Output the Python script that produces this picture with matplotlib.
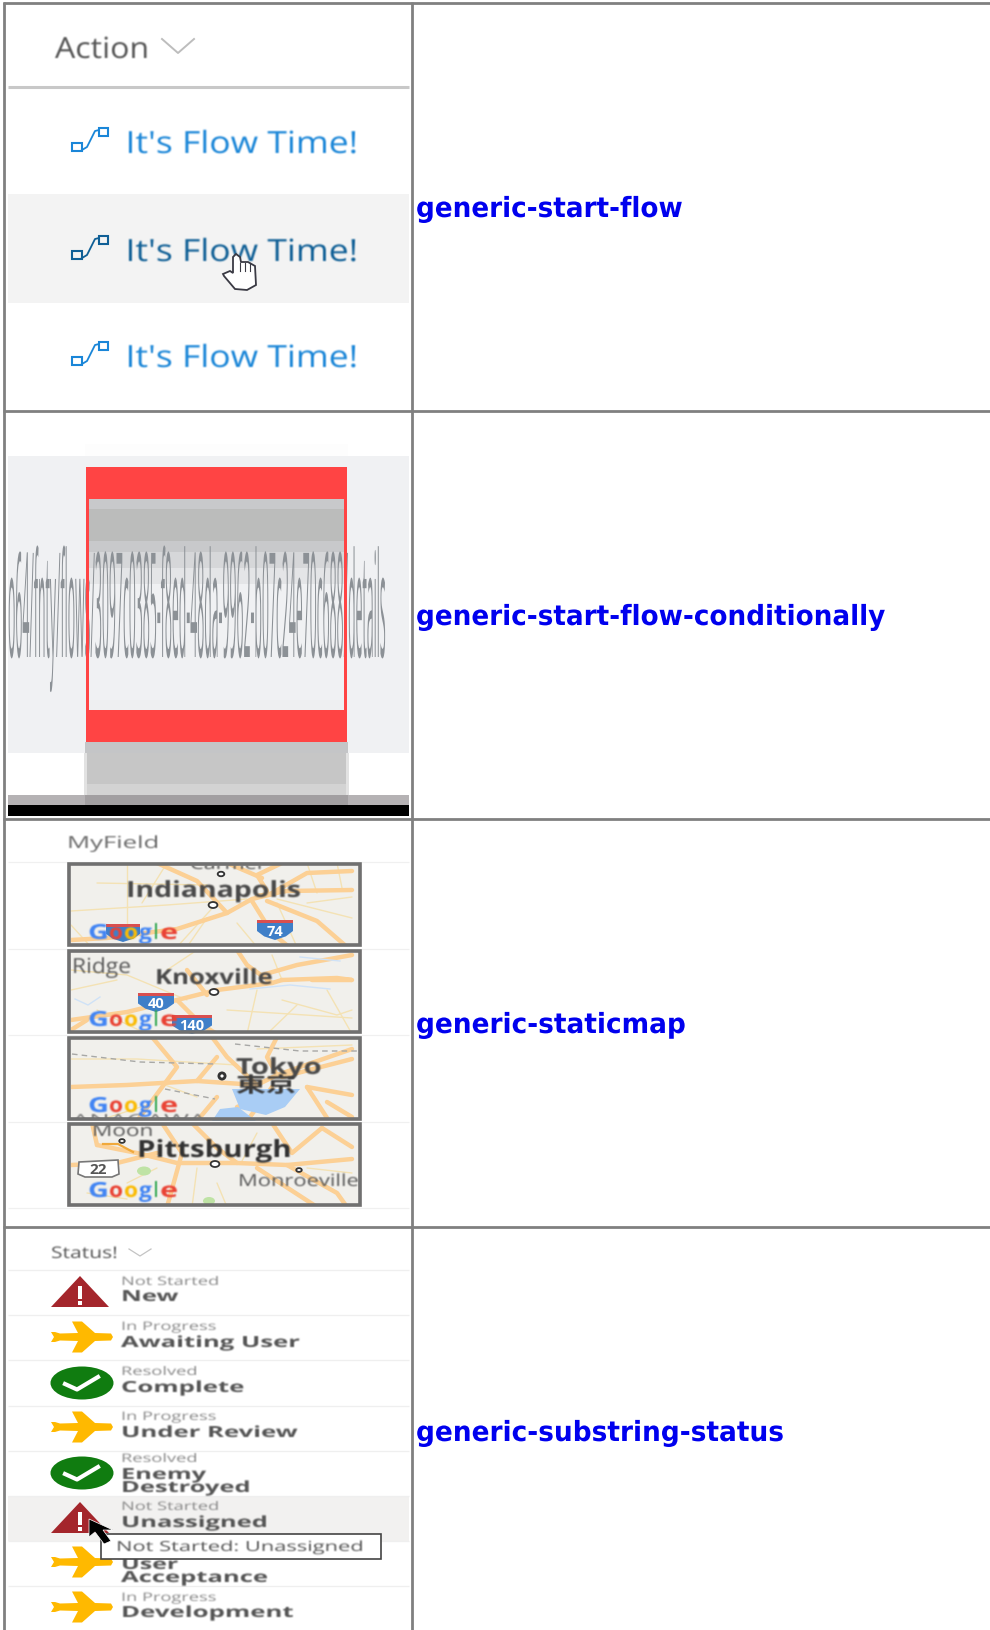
import numpy as np
import matplotlib
matplotlib.use('Agg')
import matplotlib.pyplot as plt
from matplotlib.patches import Rectangle, Polygon, Ellipse, Circle
from matplotlib.patheffects import AbstractPathEffect
from matplotlib.transforms import Affine2D

W, H = 990, 1631
SCREEN = 'Open Sans'

row_names = ['generic-start-flow', 'generic-start-flow-conditionally', 'generic-staticmap', 'generic-substring-status']
row_name_widths = [267, 470, 270, 368]
row_lines = [4, 412, 820, 1228]

flow_label = "It's Flow Time!"
flow_baselines = [154, 262, 368]
url_text = 'o64/fnty/flows/3097c0385-f8ed-48da-9962-b07c24e70c688/details'

map_cities = ['Indianapolis', 'Knoxville', 'Tokyo', 'Pittsburgh']
status_groups = ['Not Started', 'In Progress', 'Resolved', 'In Progress', 'Resolved', 'Not Started', 'In Progress']
status_names = ['New', 'Awaiting User', 'Complete', 'Under Review', 'Enemy', 'Unassigned', 'Development']
status_name_ends = [178, 300, 244, 297, 206, 268, 293]
status_group_ends = [219, 216, 197, 216, 197, 219, 216]
status_group_y = [1286, 1331, 1376, 1421, 1463, 1511, 1602]
status_name_y = [1302, 1348, 1393, 1438, 1480, 1528, 1618]
status_rules = [1271, 1316, 1361, 1407, 1452, 1497, 1542, 1587]


class Stretch(AbstractPathEffect):
    # scales the glyph outlines about the text anchor, the screenshots are squashed
    def __init__(self, sx, sy, x, y):
        super().__init__()
        self.tr = Affine2D().translate(-x, -y).scale(sx, sy).translate(x, y)

    def draw_path(self, renderer, gc, tpath, affine, rgbFace=None):
        renderer.draw_path(gc, tpath, affine + self.tr, rgbFace)


def soft(passes):
    # small blur, the reference is an upscaled screenshot
    def apply(img, dpi):
        pad = passes + 1
        a = np.pad(img, ((pad, pad), (pad, pad), (0, 0)))
        a = a.copy()
        a[..., :3] *= a[..., 3:]
        for _ in range(passes):
            for ax_i in (0, 1):
                a = (np.roll(a, 1, ax_i) + 2 * a + np.roll(a, -1, ax_i)) / 4
        alpha = np.clip(a[..., 3:], 1e-4, 1)
        a[..., :3] = np.clip(a[..., :3] / alpha, 0, 1)
        return a, -pad, -pad
    return apply


fig = plt.figure(figsize=(W / 100, H / 100), dpi=100, facecolor='white')
ax = fig.add_axes([0, 0, 1, 1])
ax.set_xlim(0, W)
ax.set_ylim(H, 0)
ax.axis('off')
rend = fig.canvas.get_renderer()


def label(x, base, s, size, end=None, sy=1.0, color='#555555', weight='normal', family=SCREEN,
          blur=1, z=5, clip=None):
    t = ax.text(x, base, s, fontsize=size, color=color, weight=weight, family=family,
                ha='left', va='baseline', zorder=z)
    sx = 1.0
    if end is not None:
        sx = (end - x) / t.get_window_extent(rend).width
    t.set_path_effects([Stretch(sx, sy, x, H - base)])
    if blur:
        t.set_agg_filter(soft(blur))
    if clip is not None:
        t.set_clip_on(True)
        t.set_clip_path(clip)
    return t


def box(x0, y0, x1, y1, color, z=1, **kw):
    p = Rectangle((x0, y0), x1 - x0, y1 - y0, facecolor=color, edgecolor='none', zorder=z, **kw)
    ax.add_patch(p)
    return p


def rule(x0, x1, y, color, lw, z=2):
    ax.plot([x0, x1], [y, y], color=color, lw=lw, zorder=z, solid_capstyle='butt')


# row 1, flow buttons
label(55, 59, 'Action', 21, end=149, color='#555555')
ax.plot([162, 178, 194], [40, 54, 40], color='#bdbdbd', lw=1.4, zorder=3)
rule(8, 409, 88, '#c8c8c8', 2.2)
box(8, 194.5, 409, 304, '#f3f3f3')
for i, base in enumerate(flow_baselines):
    col = '#0f5f96' if i == 1 else '#1a86d8'
    label(125.5, base, flow_label, 22, end=358, color=col)
    y = base - 154
    ax.add_patch(Rectangle((72, 143.5 + y), 9.5, 8.5, fill=False, edgecolor=col, lw=1.5, zorder=3))
    ax.add_patch(Rectangle((99, 129 + y), 8.5, 8, fill=False, edgecolor=col, lw=1.5, zorder=3))
    ax.plot([82, 87, 95, 99], [151 + y, 148 + y, 132 + y, 131 + y], color=col, lw=1.3, zorder=3)

# hand pointer
hand = [(223, 275), (230, 272), (233, 274), (233, 258), (236, 255), (240, 258), (241, 263), (248, 263),
        (255, 267), (256, 286), (247, 291), (235, 290), (224, 277)]
ax.add_patch(Polygon(hand, closed=True, facecolor='white', edgecolor='#3a3a44', lw=1.3, zorder=6))
for fx in (240, 245, 250):
    ax.plot([fx, fx], [264, 272], color='#3a3a44', lw=0.8, zorder=7)

# row 2, broken card stretched out of shape
box(85, 445, 348, 457, '#fdfdfd')
box(8, 457, 409, 754, '#f0f1f3')
box(86, 468, 347, 743, '#ff4444', z=2)
box(89, 500, 344, 711, '#f0f1f3', z=2)
for y0, y1, c in [(500, 510, '#c8c9cb'), (510, 542, '#bbbcbb'), (542, 553, '#c8c9cb'), (553, 569, '#d6d7d9'),
                  (569, 585, '#e4e5e7'), (701, 711, '#eeeff1')]:
    box(89, y0, 344, y1, c, z=2)
box(85, 743, 348, 754, '#c4c5c7', z=2)
box(85, 754, 348, 785, '#c6c6c6', z=2)
box(85, 785, 348, 796, '#d3d3d3', z=2)
box(84, 754, 87, 796, '#e2e2e2', z=2.1)
box(346, 754, 349, 796, '#e2e2e2', z=2.1)
box(8, 796, 409, 806, '#b5b2b4', z=2)
box(85, 796, 348, 806, '#a29fa1', z=2)
box(8, 806, 409, 817, '#000000', z=3)
label(8, 658, url_text, 15, end=386, sy=7, color='#8c9196', blur=0, z=3)
for x0, y0, x1, y1 in [(86, 468, 89, 743), (344, 468, 347, 743)]:
    box(x0, y0, x1, y1, '#ff4444', z=4)

# row 3, static maps
label(67, 849, 'MyField', 12, end=159, color='#6a6a6a')
for y in (863, 950, 1036, 1123, 1209):
    rule(8, 409, y, '#f0f0f0', 0.9)

map_tops = [864, 951, 1038, 1124]
road_c = '#fcd095'
thin_c = '#f4e2b4'


def draw_map(top, thick, thin, z=2):
    box(67, top, 362, top + 84, '#f1f0ec', z=z)
    clip = box(71, top + 2, 358, top + 82, 'none', z=z)
    for pts, lw, col in [(p, 1.0, thin_c) for p in thin] + [(p, 3.2, road_c) for p in thick]:
        pts = np.array(pts, dtype=float)
        ln, = ax.plot(67 + pts[:, 0], top + pts[:, 1], color=col, lw=lw, zorder=z + 0.1, solid_capstyle='round')
        ln.set_clip_path(clip)
    return clip


def google(x, base):
    letters = 'Google'
    cols = ['#4285f4', '#ea4335', '#fbbc05', '#4285f4', '#34a853', '#ea4335']
    steps = [0, 21, 36, 51, 65, 72]
    ends = [21, 35, 50, 64, 71, 90]
    for ch, c, s, e in zip(letters, cols, steps, ends):
        label(x + s, base, ch, 15, end=x + e, color=c, weight='bold', z=4)


def shield(x0, y0, w, h, num):
    xs = np.array([0, 1, 1, 0.8, 0.5, 0.2, 0])
    ys = np.array([0, 0, 0.55, 0.82, 1, 0.82, 0.55])
    ax.add_patch(Polygon(np.c_[x0 + xs * w, y0 + ys * h], facecolor='#3f7fc8', edgecolor='none', zorder=3.5))
    box(x0, y0, x0 + w, y0 + h * 0.16, '#d94f4f', z=3.6)
    ax.text(x0 + w / 2, y0 + h * 0.55, num, color='white', fontsize=10.5, weight='bold', family=SCREEN,
            ha='center', va='center', zorder=3.7)


def dot(x, y, r=4):
    ax.add_patch(Ellipse((x, y), r * 2.2, r * 1.5, facecolor='white', edgecolor='#333333', lw=1.3, zorder=3.5))


clip1 = draw_map(map_tops[0],
                 [[(4, 77), (40, 75), (110, 66), (160, 50), (185, 36), (210, 30)],
                  [(285, 27), (220, 28), (190, 33)], [(185, 38), (205, 70), (222, 84)],
                  [(200, 38), (250, 58), (280, 84)],
                  [(160, 50), (130, 18), (90, 0)], [(200, 28), (190, 12), (215, 0)], [(205, 30), (240, 10), (285, 8)],
                  [(160, 0), (195, 15)]],
                 [[(4, 48), (100, 42), (180, 36)], [(210, 36), (285, 55)], [(60, 0), (60, 70)], [(140, 55), (120, 84)],
                  [(240, 0), (250, 30)], [(30, 20), (140, 22)], [(170, 60), (190, 84)], [(4, 62), (24, 84)],
                  [(100, 0), (75, 40)], [(210, 40), (230, 84)], [(150, 40), (110, 84)], [(240, 40), (285, 34)],
                  [(270, 0), (275, 25)]])
label(190, 870, 'Carmel', 11, end=262, color='#555555', z=2.5, clip=clip1)
label(126, 898, map_cities[0], 16, end=301, color='#4a4a4a', weight='bold', z=4)
dot(213, 906)
dot(221, 875, 3)
shield(257, 921, 36, 20, '74')
shield(106, 925, 34, 18, '')
google(88, 940)

draw_map(map_tops[1],
         [[(4, 70), (60, 62), (110, 50), (150, 40), (205, 33), (215, 30)], [(205, 33), (180, 15), (170, 0)],
          [(215, 30), (270, 28), (285, 30), (245, 30)], [(285, 5), (230, 15), (195, 25)],
          [(110, 50), (135, 75), (150, 84)], [(4, 80), (20, 70)], [(120, 20), (140, 45)]],
         [[(4, 20), (60, 25), (120, 50)], [(215, 50), (270, 65), (285, 60)], [(190, 40), (180, 84)],
          [(230, 55), (200, 84)], [(205, 5), (215, 30)], [(130, 0), (100, 20)], [(4, 40), (50, 30)],
          [(260, 40), (285, 84)], [(160, 60), (285, 68)], [(30, 60), (80, 84)]])
for pts in [[(75, 1000), (88, 1006), (100, 998)], [(250, 990), (290, 986), (330, 990)], [(300, 958), (340, 962)]]:
    pts = np.array(pts)
    ax.plot(pts[:, 0], pts[:, 1], color='#cfe2f7', lw=1, zorder=2.2)
label(155, 985, map_cities[1], 15, end=273, color='#4a4a4a', weight='bold', z=4)
label(72, 974, 'Ridge', 15, end=131, color='#5a5a5a', z=4)
dot(214, 993)
shield(138, 994, 36, 19, '40')
shield(172, 1016, 40, 19, '140')
google(88, 1027)

clip3 = draw_map(map_tops[2],
                 [[(4, 50), (60, 48), (130, 44), (190, 48), (210, 38), (285, 12)], [(70, 84), (110, 30), (85, 0)],
                  [(190, 48), (160, 20), (145, 0)], [(210, 38), (200, 20), (210, 0)], [(205, 50), (180, 84)],
                  [(240, 50), (285, 58)], [(260, 65), (285, 80)], [(150, 60), (130, 84)], [(215, 40), (285, 22)],
                  [(130, 44), (150, 20)], [(240, 50), (262, 84)], [(170, 70), (210, 55)]],
                 [[(4, 22), (70, 22), (170, 28)], [(190, 12), (285, 8)], [(90, 45), (130, 60)], [(30, 84), (80, 68)]])
for pts in [[(72, 1055), (140, 1063), (215, 1065)], [(235, 1045), (300, 1052), (357, 1052)], [(165, 1090), (215, 1100)]]:
    pts = np.array(pts)
    ax.plot(pts[:, 0], pts[:, 1], color='#a8a8a6', lw=1, ls=(0, (4, 3)), zorder=2.3)
ax.add_patch(Polygon([(232, 1090), (300, 1090), (285, 1108), (266, 1116), (240, 1110)], facecolor='#a9cdf5',
                     edgecolor='none', zorder=3))
ax.add_patch(Polygon([(212, 1122), (220, 1110), (238, 1108), (256, 1122)], facecolor='#a9cdf5', edgecolor='none',
                     zorder=3))
label(236, 1075, map_cities[2], 16, end=322, color='#4a4a4a', weight='bold', z=4)
label(236, 1093, '東京', 15, end=296, color='#3a3a3a', weight='bold', family='Noto Sans CJK JP', z=4)
ax.add_patch(Circle((222, 1077), 4.5, facecolor='#333333', edgecolor='none', zorder=4))
ax.add_patch(Circle((222, 1077), 1.6, facecolor='white', edgecolor='none', zorder=4.1))
label(72, 1125, 'ANAGAWA', 10, end=206, color='#777777', z=3.5, clip=clip3)
google(88, 1113)

draw_map(map_tops[3],
         [[(30, 22), (70, 30), (110, 40), (170, 40), (220, 42), (285, 36)], [(125, 0), (150, 25), (170, 40)],
          [(95, 0), (115, 30), (100, 84)], [(255, 5), (225, 30), (205, 0)], [(220, 42), (270, 70), (280, 84)],
          [(190, 45), (250, 84)], [(4, 42), (50, 40), (90, 30)], [(255, 5), (285, 24)], [(30, 22), (25, 0)]],
         [[(190, 10), (175, 38)], [(150, 60), (160, 84)], [(20, 70), (60, 76)], [(240, 45), (285, 50)],
          [(130, 45), (125, 84)], [(60, 60), (90, 45)]])
ax.plot([103, 118, 133], [1145, 1145, 1153], color='#f0a93c', lw=1.6, zorder=2.4)
label(137, 1158, map_cities[3], 17, end=292, color='#333333', weight='bold', z=4)
label(92, 1137, 'Moon', 12, end=153, color='#5a5a5a', z=4)
label(238, 1187, 'Monroeville', 12, end=358, color='#5a5a5a', z=4)
dot(215, 1165)
dot(122, 1142, 2.5)
dot(299, 1171, 2.5)
ax.add_patch(Polygon([(79, 1163), (118, 1161), (119, 1175), (112, 1178), (85, 1178), (78, 1175)], facecolor='white',
                     edgecolor='#777777', lw=1.2, zorder=3.5))
ax.text(98, 1170, '22', color='#555555', fontsize=11, weight='bold', family=SCREEN, ha='center', va='center', zorder=4)
ax.add_patch(Ellipse((144, 1172), 14, 9, facecolor='#bfe3a5', edgecolor='none', zorder=2.5))
ax.add_patch(Ellipse((209, 1202), 12, 8, facecolor='#bfe3a5', edgecolor='none', zorder=2.5))
google(88, 1198)
for top in map_tops:
    ax.add_patch(Rectangle((69, top + 1), 291, 81, fill=False, edgecolor='#707070', lw=2.6, zorder=4.5))

# row 4, status column
label(51, 1259, 'Status!', 11.5, end=118, color='#555555')
ax.plot([129, 140, 151], [1250, 1257, 1250], color='#c4c4c4', lw=0.9, zorder=3)
box(8, 1497, 409, 1542, '#f2f1f0')
for y in status_rules:
    rule(8, 409, y, '#efefef', 0.9)


def triangle(top):
    ax.add_patch(Polygon([(51, top + 31), (80, top), (109, top + 31)], facecolor='#a4262c', edgecolor='none', zorder=3))
    box(78, top + 10, 82, top + 23, 'white', z=3.1)
    box(78, top + 25, 82, top + 29, 'white', z=3.1)


def plane(mid):
    dx = [113, 111, 95, 82, 72, 78, 60, 55, 51, 54]
    dy = [0, 3.5, 4, 15.5, 15.5, 4, 3.5, 5, 5, 0]
    upper = list(zip(dx, np.array(dy) * -1 + mid))
    lower = list(zip(dx[-2:0:-1], np.array(dy[-2:0:-1]) + mid))
    ax.add_patch(Polygon(upper + lower, facecolor='#ffb900', edgecolor='none', zorder=3))


def check(mid):
    ax.add_patch(Ellipse((82, mid), 63, 33, facecolor='#107c10', edgecolor='none', zorder=3))
    ax.plot([65, 77, 98], [mid + 1, mid + 6.5, mid - 6], color='white', lw=3, zorder=3.1)


triangle(1277)
plane(1338)
check(1384)
plane(1428)
check(1474)
triangle(1503)
plane(1563)
plane(1608)

for i, name in enumerate(status_names):
    label(121, status_group_y[i], status_groups[i], 8.5, end=status_group_ends[i], color='#8a8a8a')
    label(121, status_name_y[i], name, 11, end=status_name_ends[i], color='#555555', weight='bold')
label(121, 1493, 'Destroyed', 11, end=250, color='#555555', weight='bold')
label(121, 1570, 'User', 11, end=178, color='#555555', weight='bold')
label(121, 1583, 'Acceptance', 11, end=267, color='#555555', weight='bold')

box(100.5, 1534.5, 381, 1560, 'white', z=6)
ax.add_patch(Rectangle((100.5, 1534.5), 280.5, 25.5, fill=False, edgecolor='#444444', lw=1.2, zorder=6.1))
label(116, 1552, 'Not Started: Unassigned', 10, end=364, color='#555555', z=6.2)
ax.add_patch(Polygon([(89, 1520), (89, 1538), (95, 1533), (104, 1545), (111, 1542), (103, 1531), (113, 1531)],
                     facecolor='black', edgecolor='white', lw=0.5, zorder=7))

# table grid and the blue names on the right
for y in row_lines:
    rule(3, W, y, '#808080', 2, z=8)
for x in (4.3, 411.5):
    ax.plot([x, x], [3, H], color='#808080', lw=2, zorder=8, solid_capstyle='butt')
for i, name in enumerate(row_names):
    label(416, row_lines[i] + 214, name, 20, end=416 + row_name_widths[i], color='#0000ee', weight='bold',
          family='DejaVu Sans', blur=0, z=9)

fig.savefig('out.png', dpi=100)
